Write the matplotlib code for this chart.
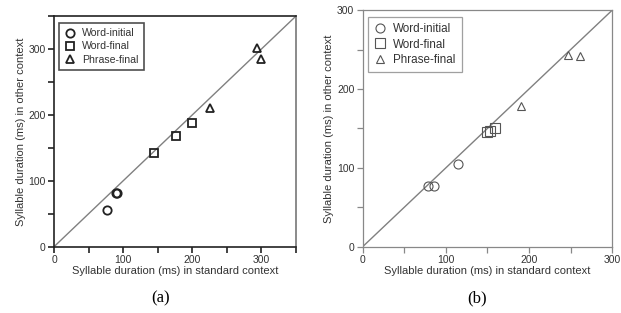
import matplotlib
matplotlib.use("Agg")
import matplotlib.pyplot as plt
from matplotlib.ticker import MultipleLocator
from matplotlib.lines import Line2D

plt.rcParams['font.family'] = ['Liberation Sans', 'DejaVu Sans']

# Panel (a) data
a_init_x = [77, 90, 91]
a_init_y = [55, 82, 81]
a_wfin_x = [145, 177, 200]
a_wfin_y = [142, 168, 188]
a_phr_x = [226, 293, 299]
a_phr_y = [211, 302, 285]

# Panel (b) data
b_init_x = [79, 86, 114]
b_init_y = [77, 77, 105]
b_wfin_x = [150, 153, 159]
b_wfin_y = [145, 147, 151]
b_phr_x = [190, 247, 261]
b_phr_y = [179, 243, 242]

legend_labels = ['Word-initial', 'Word-final', 'Phrase-final']
xlabel = 'Syllable duration (ms) in standard context'
ylabel = 'Syllable duration (ms) in other context'

fig = plt.figure(figsize=(6.21, 3.13), dpi=100)

ax1 = fig.add_axes([0.087, 0.2118, 0.3897, 0.737])
ax2 = fig.add_axes([0.584, 0.2118, 0.402, 0.756])


def style(ax, data, lim, col, lw, mcol, mew, ms, tms, legfs):
    (ix, iy), (wx, wy), (px, py) = data
    ax.plot([0, lim], [0, lim], color='#808080', lw=1.0, zorder=1)
    ax.plot(ix, iy, 'o', mfc='none', mec=mcol, mew=mew, ms=ms, zorder=3)
    ax.plot(wx, wy, 's', mfc='none', mec=mcol, mew=mew, ms=ms, zorder=3)
    ax.plot(px, py, '^', mfc='none', mec=mcol, mew=mew, ms=tms, zorder=3)
    ax.set_xlim(0, lim)
    ax.set_ylim(0, lim)
    ax.xaxis.set_major_locator(MultipleLocator(100))
    ax.yaxis.set_major_locator(MultipleLocator(100))
    ax.xaxis.set_minor_locator(MultipleLocator(50))
    ax.yaxis.set_minor_locator(MultipleLocator(50))
    ax.tick_params(which='major', direction='out', length=4, width=lw, color=col,
                   labelsize=7.5, labelcolor='#333333', pad=2)
    ax.tick_params(which='minor', direction='out', length=4, width=lw, color=col)
    for s in ax.spines.values():
        s.set_color(col)
        s.set_linewidth(lw)
    ax.set_xlabel(xlabel, fontsize=8, color='#333333', labelpad=1)
    ax.set_ylabel(ylabel, fontsize=8, color='#333333', labelpad=2)
    handles = [Line2D([], [], marker=m, ls='none', mfc='none', mec=mcol, mew=mew,
                      ms=(tms if m == '^' else ms)) for m in ['o', 's', '^']]
    leg = ax.legend(handles, legend_labels, loc='upper left', fontsize=legfs, frameon=True,
                    fancybox=False, edgecolor=col, handletextpad=0.5, handlelength=1.2,
                    borderpad=0.5, labelspacing=0.3, bbox_to_anchor=(0.02, 0.97),
                    borderaxespad=0)
    leg.get_frame().set_linewidth(lw)
    for t in leg.get_texts():
        t.set_color('#333333')


style(ax1, [(a_init_x, a_init_y), (a_wfin_x, a_wfin_y), (a_phr_x, a_phr_y)],
      350, '#222222', 1.2, '#222222', 1.3, 6.0, 5.5, 7.6)
ax1.spines['right'].set_color('#777777')
style(ax2, [(b_init_x, b_init_y), (b_wfin_x, b_wfin_y), (b_phr_x, b_phr_y)],
      300, '#888888', 0.9, '#555555', 0.8, 6.5, 6.0, 8.4)

fig.text(0.258, 0.048, '(a)', ha='center', va='center', fontsize=12,
         family=['Liberation Serif', 'DejaVu Serif'])
fig.text(0.768, 0.048, '(b)', ha='center', va='center', fontsize=12,
         family=['Liberation Serif', 'DejaVu Serif'])

fig.savefig('out.png', dpi=100)
